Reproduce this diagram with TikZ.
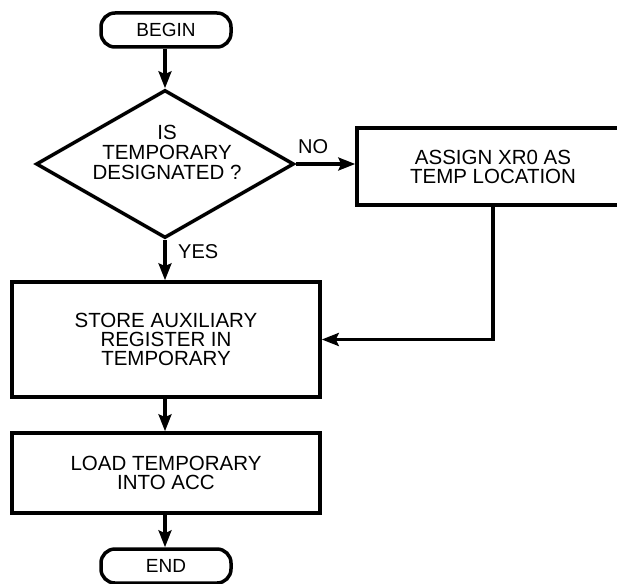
\documentclass[tikz,border=0pt]{standalone}
\usepackage{fontspec}
\setmainfont{Liberation Sans}
\usetikzlibrary{shapes.geometric,arrows.meta}
\begin{document}
\begin{tikzpicture}[x=1pt,y=-1pt,
  box/.style={draw, line width=3.5pt, rectangle, inner sep=0pt, align=center, font=\fontsize{20.5}{19}\selectfont},
  term/.style={draw, line width=3.5pt, rounded corners=14pt, minimum width=130pt, minimum height=34pt, inner sep=0pt, font=\fontsize{19}{19}\selectfont},
  conn/.style={line width=3.2pt, -{Stealth[length=17pt,width=13pt,inset=3pt]}},
  lbl/.style={font=\fontsize{20}{20}\selectfont, inner sep=0pt}]
\useasboundingbox (0,0) rectangle (617,583);
\clip (0,0) rectangle (617,583);
\node[term] (begin) at (166,30) {BEGIN};
\node[diamond, draw, line width=3.5pt, minimum width=258pt, minimum height=148pt, inner sep=0pt] (dec) at (165,164) {};
\node[align=center, inner sep=0pt, font=\fontsize{20.5}{20}\selectfont] (dectext) at (167,152) {IS\\TEMPORARY\\DESIGNATED ?};
\node[box, minimum width=272pt, minimum height=77pt] (assign) at (493,166.5) {ASSIGN XR0 AS\\TEMP LOCATION};
\node[box, minimum width=308pt, minimum height=115pt] (store) at (166,339.5) {STORE AUXILIARY\\REGISTER IN\\TEMPORARY};
\node[box, minimum width=308pt, minimum height=80pt] (load) at (166,473) {LOAD TEMPORARY\\INTO ACC};
\node[term] (end) at (166,566) {END};
\node[lbl, anchor=west] (no) at (298,147) {NO};
\node[lbl, anchor=west] (yes) at (178,252) {YES};
\draw[conn] (begin.south -| dec.north) -- (dec.north);
\draw[conn] (dec.east) -- (dec.east -| assign.west);
\draw[conn] (dec.south) -- (dec.south |- store.north);
\draw[conn] (assign.south) |- (store.east);
\draw[conn] (store.south -| dec.south) -- (load.north -| dec.south);
\draw[conn] (load.south -| dec.south) -- (end.north -| dec.south);
\end{tikzpicture}
\end{document}
